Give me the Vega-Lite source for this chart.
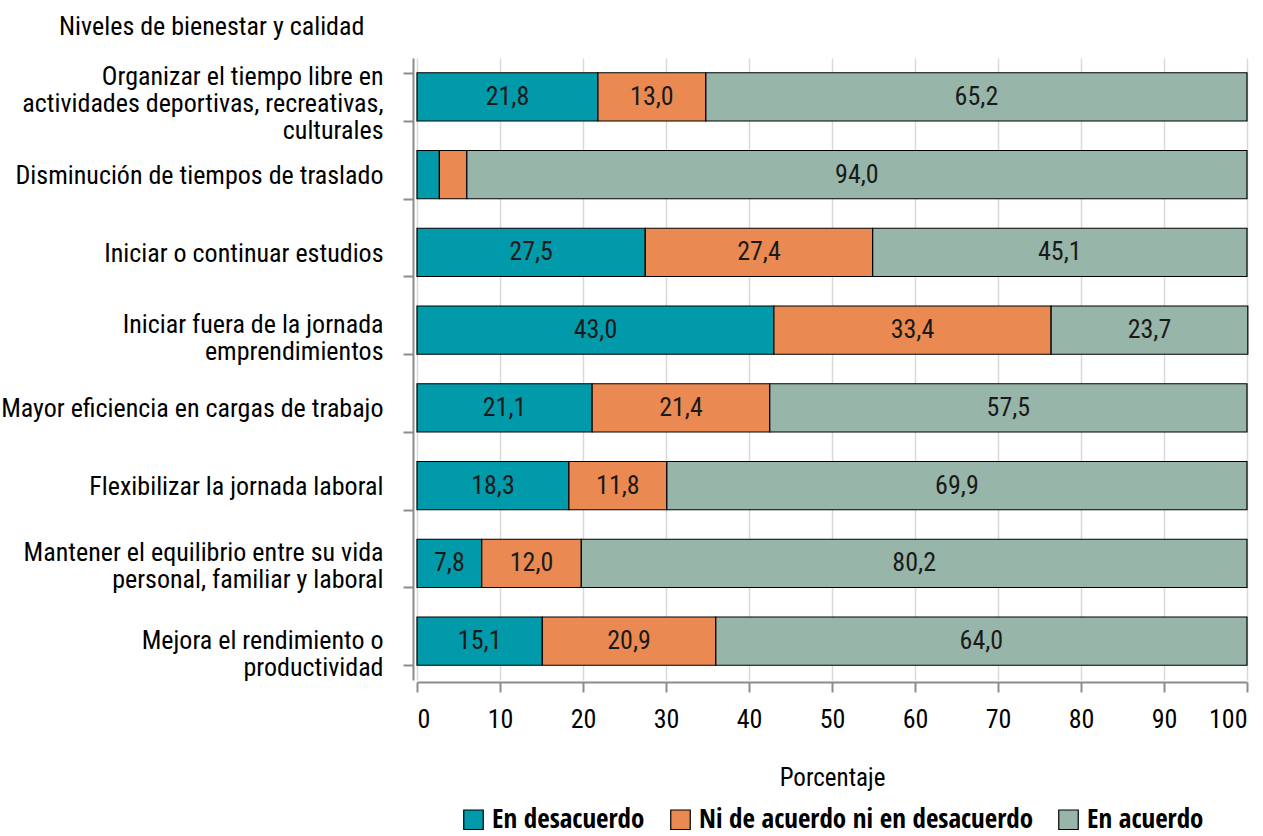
{
  "$schema": "https://vega.github.io/schema/vega-lite/v6.json",
  "width": 830,
  "height": 622,
  "autosize": {"type": "none"},
  "padding": {"left": 417, "top": 58, "right": 16, "bottom": 156},
  "title": {
    "text": "Niveles de bienestar y calidad",
    "anchor": "start",
    "frame": "group",
    "dx": -358,
    "offset": 5,
    "fontSize": 26,
    "fontWeight": "normal",
    "font": "Roboto Condensed",
    "color": "#000000"
  },
  "config": {
    "locale": {"number": {"decimal": ",", "thousands": ".", "grouping": [3], "currency": ["", " €"]}},
    "view": {"stroke": null},
    "font": "Roboto Condensed"
  },
  "data": {
    "values": [
      {"item": "Organizar el tiempo libre en\nactividades deportivas, recreativas,\nculturales", "respuesta": "En desacuerdo", "k": 1, "value": 21.8},
      {"item": "Organizar el tiempo libre en\nactividades deportivas, recreativas,\nculturales", "respuesta": "Ni de acuerdo ni en desacuerdo", "k": 2, "value": 13.0},
      {"item": "Organizar el tiempo libre en\nactividades deportivas, recreativas,\nculturales", "respuesta": "En acuerdo", "k": 3, "value": 65.2},
      {"item": "Disminución de tiempos de traslado", "respuesta": "En desacuerdo", "k": 1, "value": 2.7},
      {"item": "Disminución de tiempos de traslado", "respuesta": "Ni de acuerdo ni en desacuerdo", "k": 2, "value": 3.3},
      {"item": "Disminución de tiempos de traslado", "respuesta": "En acuerdo", "k": 3, "value": 94.0},
      {"item": "Iniciar o continuar estudios", "respuesta": "En desacuerdo", "k": 1, "value": 27.5},
      {"item": "Iniciar o continuar estudios", "respuesta": "Ni de acuerdo ni en desacuerdo", "k": 2, "value": 27.4},
      {"item": "Iniciar o continuar estudios", "respuesta": "En acuerdo", "k": 3, "value": 45.1},
      {"item": "Iniciar fuera de la jornada\nemprendimientos", "respuesta": "En desacuerdo", "k": 1, "value": 43.0},
      {"item": "Iniciar fuera de la jornada\nemprendimientos", "respuesta": "Ni de acuerdo ni en desacuerdo", "k": 2, "value": 33.4},
      {"item": "Iniciar fuera de la jornada\nemprendimientos", "respuesta": "En acuerdo", "k": 3, "value": 23.7},
      {"item": "Mayor eficiencia en cargas de trabajo", "respuesta": "En desacuerdo", "k": 1, "value": 21.1},
      {"item": "Mayor eficiencia en cargas de trabajo", "respuesta": "Ni de acuerdo ni en desacuerdo", "k": 2, "value": 21.4},
      {"item": "Mayor eficiencia en cargas de trabajo", "respuesta": "En acuerdo", "k": 3, "value": 57.5},
      {"item": "Flexibilizar la jornada laboral", "respuesta": "En desacuerdo", "k": 1, "value": 18.3},
      {"item": "Flexibilizar la jornada laboral", "respuesta": "Ni de acuerdo ni en desacuerdo", "k": 2, "value": 11.8},
      {"item": "Flexibilizar la jornada laboral", "respuesta": "En acuerdo", "k": 3, "value": 69.9},
      {"item": "Mantener el equilibrio entre su vida\npersonal, familiar y laboral", "respuesta": "En desacuerdo", "k": 1, "value": 7.8},
      {"item": "Mantener el equilibrio entre su vida\npersonal, familiar y laboral", "respuesta": "Ni de acuerdo ni en desacuerdo", "k": 2, "value": 12.0},
      {"item": "Mantener el equilibrio entre su vida\npersonal, familiar y laboral", "respuesta": "En acuerdo", "k": 3, "value": 80.2},
      {"item": "Mejora el rendimiento o\nproductividad", "respuesta": "En desacuerdo", "k": 1, "value": 15.1},
      {"item": "Mejora el rendimiento o\nproductividad", "respuesta": "Ni de acuerdo ni en desacuerdo", "k": 2, "value": 20.9},
      {"item": "Mejora el rendimiento o\nproductividad", "respuesta": "En acuerdo", "k": 3, "value": 64.0}
    ]
  },
  "transform": [
    {"stack": "value", "groupby": ["item"], "sort": [{"field": "k", "order": "ascending"}], "as": ["v0", "v1"]}
  ],
  "encoding": {
    "y": {
      "field": "item",
      "type": "nominal",
      "sort": null,
      "scale": {"paddingInner": 0.38, "paddingOuter": 0.19},
      "axis": {
        "title": null,
        "labelExpr": "datum.value ? split(datum.value, '\\n') : ''",
        "labelFont": "Roboto Condensed",
        "labelFontSize": 26,
        "labelColor": "#000000",
        "labelLineHeight": 27,
        "labelPadding": 20,
        "labelLimit": 420,
        "labelOffset": {
          "condition": [
            {"test": "datum.value && indexof(datum.value, 'Organizar') == 0", "value": -20},
            {"test": "datum.value && indexof(datum.value, 'Iniciar fuera') == 0", "value": -6},
            {"test": "datum.value && indexof(datum.value, 'Mantener') == 0", "value": -11},
            {"test": "datum.value && indexof(datum.value, 'Mejora') == 0", "value": -1}
          ],
          "value": 1
        },
        "tickBand": "extent",
        "tickSize": 10,
        "tickColor": "#8c8c8c",
        "tickWidth": 2,
        "domainColor": "#8c8c8c",
        "domainWidth": 2,
        "offset": 4
      }
    }
  },
  "layer": [
    {
      "mark": {"type": "bar", "stroke": "#000000", "strokeWidth": 1.2},
      "encoding": {
        "x": {
          "field": "v0",
          "type": "quantitative",
          "scale": {"domain": [0, 100], "nice": false},
          "axis": {
            "title": "Porcentaje",
            "titleFont": "Roboto Condensed",
            "titleFontSize": 25,
            "titleFontWeight": "normal",
            "titleColor": "#000000",
            "titlePadding": 33,
            "values": [0, 10, 20, 30, 40, 50, 60, 70, 80, 90, 100],
            "labelFont": "Roboto Condensed",
            "labelFontSize": 26,
            "labelColor": "#000000",
            "labelPadding": 14,
            "tickSize": 10,
            "tickWidth": 2,
            "tickColor": "#8c8c8c",
            "domainColor": "#8c8c8c",
            "domainWidth": 2,
            "grid": true,
            "gridColor": "#d9d9d9",
            "gridWidth": 1.5,
            "offset": 2
          }
        },
        "x2": {"field": "v1"},
        "color": {
          "field": "respuesta",
          "type": "nominal",
          "scale": {
            "domain": ["En desacuerdo", "Ni de acuerdo ni en desacuerdo", "En acuerdo"],
            "range": ["#009aaa", "#ea8a52", "#98b5a9"]
          },
          "legend": {
            "title": null,
            "orient": "none",
            "direction": "horizontal",
            "legendX": 43,
            "legendY": 748,
            "symbolType": "square",
            "symbolSize": 380,
            "symbolStrokeColor": "#000000",
            "symbolStrokeWidth": 1.2,
            "symbolOpacity": 1,
            "labelFont": "Open Sans Condensed",
            "labelFontSize": 27,
            "labelFontWeight": "bold",
            "labelColor": "#000000",
            "labelLimit": 500,
            "columnPadding": 22,
            "labelOffset": 5
          }
        }
      }
    },
    {
      "transform": [
        {"filter": "datum.value >= 5"},
        {"calculate": "(datum.v0 + datum.v1) / 2", "as": "mid"}
      ],
      "mark": {"type": "text", "fontSize": 26, "font": "Roboto Condensed", "color": "#1a1a1a", "align": "center", "baseline": "middle"},
      "encoding": {
        "x": {"field": "mid", "type": "quantitative"},
        "text": {"field": "value", "type": "quantitative", "format": ".1f"}
      }
    }
  ]
}
